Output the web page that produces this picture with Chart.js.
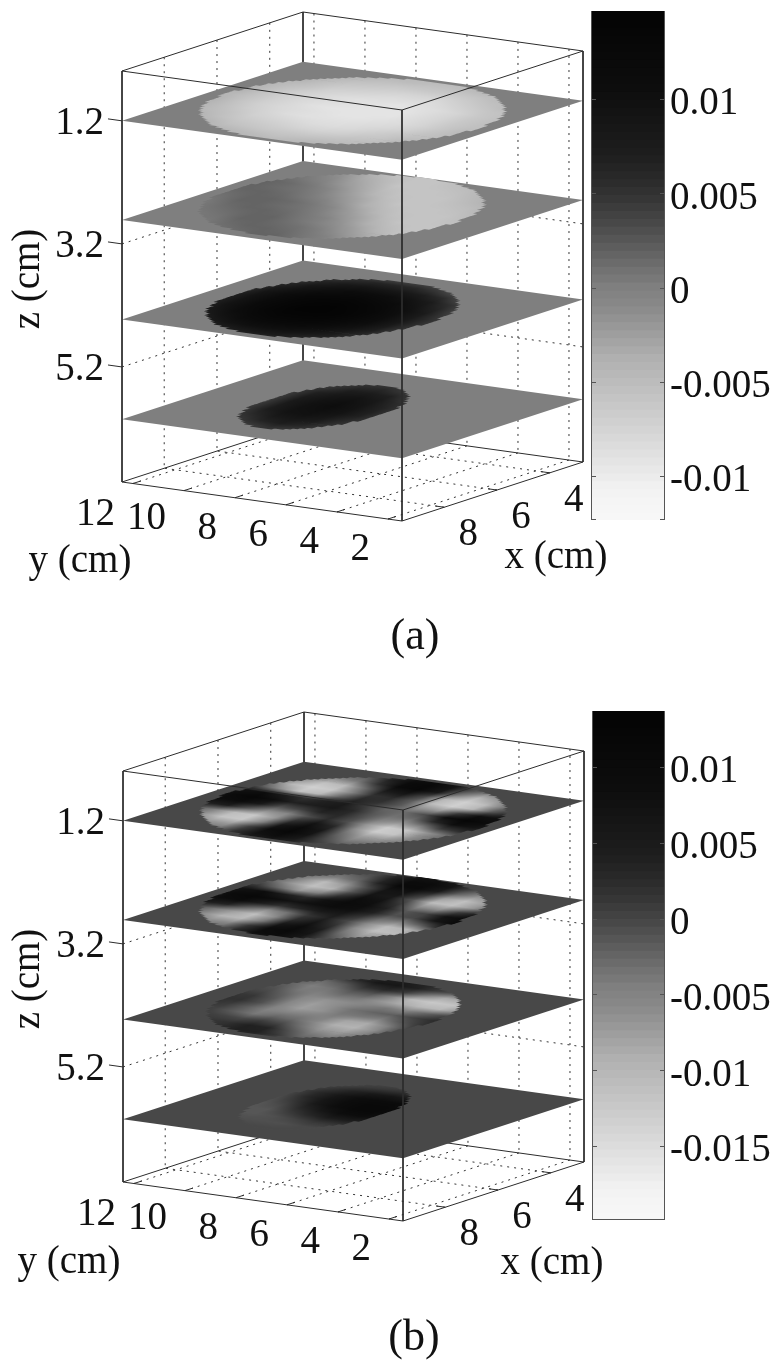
<!DOCTYPE html>
<html>
<head>
<meta charset="utf-8">
<style>
html,body{margin:0;background:#fff}
canvas{position:absolute;display:block;filter:blur(0.45px)}
</style>
<script src="https://cdn.jsdelivr.net/npm/chart.js@4"></script>
</head>
<body>
<canvas id="panelA" width="783" height="700" style="left:0;top:0"></canvas>
<canvas id="barA" width="192" height="531" style="left:591px;top:0"></canvas>
<canvas id="panelB" width="783" height="666" style="left:0;top:700px"></canvas>
<canvas id="barB" width="191" height="531" style="left:592px;top:700px"></canvas>
<script>
const xTicks = [4, 6, 8];
const yTicks = [2, 4, 6, 8, 10, 12];
const zTicks = [1.2, 3.2, 5.2];
const sliceZ = [1.2, 2.81, 4.43, 6.05];
const xRange = [2.74, 9.6];
const yRange = [1.45, 12.43];
const zRange = [0.39, 7.07];

// disc outline on each slice, cm
const discX = [6.17, 6.01, 6.32, 6.33];
const discY = [6.94, 7.52, 7.59, 7.9];
const discRx = [3.26, 3.23, 2.97, 2.40];
const discRy = [4.92, 4.45, 3.86, 2.2];

const barTicksA = [0.01, 0.005, 0, -0.005, -0.01];
const barTicksB = [0.01, 0.005, 0, -0.005, -0.01, -0.015];
const barRangeA = [-0.01234, 0.01468];
const barRangeB = [-0.01987, 0.01368];

// colormap table, top of the bar to the bottom
const grayLevels = [4,5,6,7,8,9,10,11,12,13,15,17,19,21,23,25,27,29,32,36,40,44,49,54,60,66,72,79,86,93,100,107,
  114,120,127,131,135,140,146,152,158,164,170,176,180,184,188,192,196,200,204,208,212,216,220,224,228,232,236,240,243,245,246,247];

// field values in 1e-4, rows go along x (from xmax), columns along y (from ymin)
const fieldA1 = [
[-44,-44,-43,-43,-42,-42,-42,-42,-41,-41,-40,-40,-39,-38,-38],
[-46,-45,-44,-44,-44,-47,-51,-52,-50,-46,-41,-40,-39,-38,-38],
[-47,-46,-46,-48,-54,-60,-63,-64,-62,-58,-52,-43,-40,-38,-38],
[-48,-47,-47,-56,-64,-70,-74,-74,-72,-68,-62,-52,-41,-38,-38],
[-49,-48,-52,-64,-72,-78,-82,-82,-80,-76,-70,-60,-48,-40,-38],
[-49,-49,-58,-70,-78,-84,-88,-88,-86,-82,-75,-66,-54,-41,-38],
[-50,-50,-62,-73,-82,-88,-91,-91,-89,-85,-78,-69,-57,-43,-38],
[-50,-52,-63,-75,-84,-90,-93,-92,-90,-86,-79,-70,-58,-44,-38],
[-52,-53,-64,-75,-84,-90,-93,-91,-89,-85,-78,-69,-57,-43,-38],
[-52,-52,-62,-73,-82,-88,-90,-88,-86,-82,-75,-66,-54,-41,-38],
[-52,-52,-57,-68,-76,-82,-84,-82,-80,-76,-70,-60,-48,-40,-38],
[-52,-50,-50,-60,-68,-73,-75,-74,-72,-68,-62,-52,-42,-40,-38],
[-52,-50,-48,-50,-58,-62,-64,-64,-62,-58,-52,-44,-40,-40,-38],
[-52,-50,-48,-48,-47,-50,-52,-52,-51,-48,-42,-42,-40,-40,-38],
[-52,-50,-48,-48,-47,-46,-45,-45,-44,-44,-42,-42,-40,-40,-38]];
const fieldA2 = [
[-58,-47,-31,-16,-1,7,14,18,16,12,6,5,5,5,5],
[-60,-55,-42,-26,-11,3,10,16,18,15,10,5,5,5,5],
[-60,-59,-50,-35,-20,-5,6,13,18,16,13,7,5,5,5],
[-58,-60,-58,-46,-30,-15,0,8,15,18,16,11,5,5,5],
[-54,-60,-60,-54,-40,-25,-10,3,11,17,18,14,9,5,5],
[-50,-56,-60,-59,-50,-35,-20,-4,6,13,18,16,12,7,5],
[-44,-52,-58,-60,-58,-46,-30,-14,1,9,15,18,16,11,5],
[-38,-47,-54,-60,-60,-54,-40,-24,-9,4,12,17,18,14,9],
[-38,-40,-50,-56,-60,-59,-50,-35,-19,-3,6,13,18,16,12],
[-38,-38,-45,-52,-58,-60,-57,-45,-29,-14,1,9,15,18,16],
[-38,-38,-38,-48,-54,-60,-60,-53,-40,-24,-8,4,12,17,18],
[-38,-38,-38,-40,-50,-56,-60,-59,-49,-33,-18,-2,7,14,18],
[-38,-38,-38,-38,-46,-52,-58,-60,-56,-43,-27,-12,2,10,16],
[-38,-38,-38,-38,-39,-49,-55,-60,-59,-51,-37,-21,-5,5,13],
[-38,-38,-38,-38,-38,-41,-50,-58,-60,-58,-47,-31,-16,-1,7]];
const fieldA3 = [
[30,30,30,30,30,32,37,49,54,52,45,45,45,45,45],
[30,30,30,30,30,46,64,76,81,79,70,54,45,45,45],
[30,30,30,30,43,68,86,98,103,101,92,76,53,45,45],
[30,30,30,30,61,86,104,116,121,119,110,94,71,45,45],
[30,30,30,40,73,98,117,128,133,131,122,106,84,54,45],
[30,30,30,49,82,107,125,137,142,140,131,115,92,63,45],
[30,30,30,52,85,110,128,140,145,143,134,118,95,66,45],
[30,30,30,50,83,108,127,138,143,141,132,116,94,64,45],
[30,30,30,44,77,102,120,132,137,135,126,110,88,58,45],
[30,30,30,33,66,91,110,121,126,124,115,99,77,47,45],
[30,30,30,30,51,76,94,106,111,109,100,84,61,45,45],
[30,30,30,30,31,56,74,86,91,89,80,64,45,45,45],
[30,30,30,30,30,30,48,60,65,63,54,45,45,45,45],
[30,30,30,30,30,30,32,34,36,36,36,36,36,36,36],
[30,30,30,30,30,30,30,30,30,30,30,30,30,30,30]];
const fieldA4 = [
[45,45,45,45,45,45,45,45,45,45,45,45,45,45,45],
[45,45,45,45,45,45,45,45,45,45,45,45,45,45,45],
[45,45,45,45,45,45,45,45,50,45,45,45,45,45,45],
[45,45,45,45,45,45,45,60,71,66,46,45,45,45,45],
[45,45,45,45,45,45,50,76,87,82,62,45,45,45,45],
[45,45,45,45,45,45,61,87,98,93,73,45,45,45,45],
[45,45,45,45,45,45,67,93,104,99,79,45,45,45,45],
[45,45,45,45,45,45,68,94,105,100,80,45,45,45,45],
[45,45,45,45,45,45,64,90,101,96,76,45,45,45,45],
[45,45,45,45,45,45,55,81,92,87,67,45,45,45,45],
[45,45,45,45,45,45,45,67,78,73,53,45,45,45,45],
[45,45,45,45,45,45,45,48,59,54,45,45,45,45,45],
[45,45,45,45,45,45,45,45,45,45,45,45,45,45,45],
[45,45,45,45,45,45,45,45,45,45,45,45,45,45,45],
[45,45,45,45,45,45,45,45,45,45,45,45,45,45,45]];
const fieldB1 = [
[0,-2,-5,-5,-5,5,30,46,38,15,-10,-15,-10,-5,0],
[-4,-6,-12,-16,-15,10,55,85,70,20,-35,-40,-28,-14,-5],
[-8,-14,-28,-40,-42,-5,70,112,85,5,-70,-72,-48,-22,-8],
[-12,-25,-50,-75,-78,-30,60,105,60,-50,-124,-115,-65,-30,-10],
[-15,-30,-62,-118,-128,-60,30,70,20,-70,-124,-105,-50,-10,10],
[-14,-30,-65,-118,-130,-70,-5,25,-5,-55,-62,-15,45,45,30],
[10,25,10,-45,-70,-50,-5,30,35,5,-5,55,100,85,50],
[40,70,85,30,-30,-35,-10,30,60,45,40,85,118,100,60],
[55,95,118,85,0,-30,-25,10,50,40,20,45,85,75,45],
[45,80,80,10,-70,-65,-15,20,30,-25,-100,-118,-60,-5,15],
[25,40,-10,-100,-132,-105,-20,25,20,-50,-124,-135,-100,-35,-5],
[5,5,-35,-105,-132,-100,0,65,50,-30,-100,-112,-70,-30,-8],
[-5,-12,-35,-70,-100,-40,60,115,100,20,-40,-55,-40,-20,-5],
[-5,-10,-22,-40,-45,-5,70,110,95,40,-10,-22,-20,-10,-3],
[-3,-5,-12,-20,-20,5,55,85,70,30,0,-8,-8,-4,0]];
const fieldB2 = [
[0,-2,-4,-5,-5,5,30,45,42,20,-5,-10,-8,-4,0],
[-3,-6,-12,-16,-14,10,60,90,85,30,-25,-32,-20,-10,-4],
[-8,-14,-28,-42,-45,-5,65,105,90,15,-55,-62,-40,-20,-6],
[-10,-22,-48,-72,-78,-35,45,90,60,-40,-100,-98,-52,-22,-5],
[-10,-24,-58,-105,-112,-60,20,65,25,-60,-110,-78,-40,-4,14],
[0,-16,-50,-95,-105,-60,0,40,15,-35,-60,-20,35,50,35],
[20,45,40,-20,-50,-35,15,55,55,35,20,50,95,85,50],
[40,85,105,60,0,-5,40,80,90,80,70,90,112,100,60],
[45,90,108,75,5,-10,40,85,95,75,30,45,85,75,45],
[40,70,65,10,-60,-60,15,75,85,20,-45,-70,-30,10,15],
[25,35,-5,-70,-110,-105,-15,55,65,-10,-95,-112,-70,-25,-4],
[8,5,-30,-75,-110,-75,10,70,65,-5,-70,-105,-60,-25,-6],
[-4,-10,-30,-60,-65,-25,55,105,105,35,-25,-45,-32,-15,-4],
[-4,-8,-18,-30,-32,5,70,100,95,40,-5,-18,-16,-8,-2],
[-2,-4,-10,-15,-14,5,50,75,70,30,0,-6,-6,-3,0]];
const fieldB3 = [
[10,10,10,10,0,-5,-5,0,20,20,10,5,5,5,5],
[10,10,10,10,-10,-25,-20,15,40,40,25,10,5,5,5],
[10,10,10,10,-30,-50,-40,-5,35,40,20,15,10,5,5],
[15,15,15,5,-50,-75,-70,-35,0,10,0,5,10,10,5],
[20,20,20,0,-60,-95,-90,-55,-30,-25,-39,-20,5,10,5],
[25,25,25,5,-45,-85,-80,-50,-45,-50,-50,-20,10,20,10],
[25,25,25,15,-15,-45,-40,-40,-65,-75,-50,-5,20,20,10],
[25,25,25,22,5,-20,-25,-35,-60,-75,-55,-10,15,15,8],
[20,15,10,5,-25,-50,-40,-50,-60,-65,-55,-25,0,5,5],
[10,0,-20,-60,-100,-100,-85,-65,-40,-35,-45,-40,-15,-2,0],
[5,-5,-40,-90,-120,-125,-105,-50,-10,-15,-35,-45,-25,-5,0],
[0,-5,-25,-60,-85,-85,-40,10,30,20,-10,-30,-20,-5,0],
[0,0,-5,-15,-15,-15,10,40,60,60,30,5,0,0,0],
[0,0,0,0,5,10,20,30,45,40,20,5,0,0,0],
[0,0,0,0,0,5,10,15,20,15,10,0,0,0,0]];
const fieldB4 = [
[0,0,0,0,0,0,0,0,0,0,0,0,0,0,0],
[0,0,0,0,0,0,0,0,0,0,0,0,0,0,0],
[0,0,0,0,0,0,0,0,0,0,0,0,0,0,0],
[0,0,0,0,0,0,0,0,-5,-8,-8,-4,0,0,0],
[0,0,0,0,0,10,15,15,5,-5,-12,-10,-2,0,0],
[0,0,0,0,0,35,50,50,30,8,-14,-14,-5,0,0],
[0,0,0,0,5,70,90,85,60,30,0,-14,-8,0,0],
[0,0,0,0,10,85,110,108,85,55,15,-8,-8,0,0],
[0,0,0,0,15,90,110,110,90,65,30,0,-5,0,0],
[0,0,0,0,10,75,95,100,85,60,30,5,0,0,0],
[0,0,0,0,2,30,55,65,55,35,15,0,0,0,0],
[0,0,0,0,0,5,12,20,15,8,0,0,0,0,0],
[0,0,0,0,0,0,0,0,0,0,0,0,0,0,0],
[0,0,0,0,0,0,0,0,0,0,0,0,0,0,0],
[0,0,0,0,0,0,0,0,0,0,0,0,0,0,0]];

const serif = 'Liberation Serif';

function grayOf(v, range) {
  const t = (range[1] - v) / (range[1] - range[0]);
  const k = Math.max(0, Math.min(grayLevels.length - 1, Math.floor(t * grayLevels.length)));
  return grayLevels[k];
}

function makeProjection(fx, fy) {
  const px = 181 / (xRange[1] - xRange[0]);
  const py = 59 / (xRange[1] - xRange[0]);
  const qx = 280 / (yRange[1] - yRange[0]);
  const qy = 39 / (yRange[1] - yRange[0]);
  const pz = 411 / (zRange[1] - zRange[0]);
  return (x, y, z) => ({
    x: fx + (xRange[1] - x) * px - (y - yRange[0]) * qx,
    y: fy - (xRange[1] - x) * py - (y - yRange[0]) * qy + (z - zRange[1]) * pz
  });
}

function lineLayer(segments, project, style) {
  const data = [];
  segments.forEach(s => {
    data.push(project(...s[0]), project(...s[1]), {x: NaN, y: NaN});
  });
  return Object.assign({data, pointRadius: 0, borderWidth: 1, borderColor: '#2c2c2c', fill: false}, style);
}

function fieldImage(field, range) {
  const c = document.createElement('canvas');
  c.width = field.length;
  c.height = field[0].length;
  const g = c.getContext('2d');
  const img = g.createImageData(c.width, c.height);
  field.forEach((row, i) => row.forEach((v, j) => {
    const level = grayOf(v * 1e-4, range);
    const p = (j * c.width + i) * 4;
    img.data[p] = level; img.data[p + 1] = level; img.data[p + 2] = level; img.data[p + 3] = 255;
  }));
  g.putImageData(img, 0, 0);
  return c;
}

// paints the slice field right after its plane, inside the stepped disc outline
function slicePlugin(project, range) {
  return {
    id: 'sliceField',
    afterDatasetDraw(chart, args) {
      const ds = chart.data.datasets[args.index];
      if (!ds.field) return;
      const sx = chart.scales.x, sy = chart.scales.y;
      const pix = p => [sx.getPixelForValue(p.x), sy.getPixelForValue(p.y)];
      const o = pix(project(xRange[1], yRange[0], ds.z));
      const a = pix(project(xRange[0], yRange[0], ds.z));
      const b = pix(project(xRange[1], yRange[1], ds.z));
      const ctx = chart.ctx;
      ctx.save();
      ctx.transform(a[0] - o[0], a[1] - o[1], b[0] - o[0], b[1] - o[1], o[0], o[1]);
      const n = 64;
      ctx.beginPath();
      for (let r = 0; r < n; r++) {
        const x = xRange[1] - (r + 0.5) / n * (xRange[1] - xRange[0]);
        const d = (x - discX[ds.slice]) / discRx[ds.slice];
        if (Math.abs(d) >= 1) continue;
        const half = discRy[ds.slice] * Math.sqrt(1 - d * d);
        const v0 = Math.round((discY[ds.slice] - half - yRange[0]) / (yRange[1] - yRange[0]) * n) / n;
        const v1 = Math.round((discY[ds.slice] + half - yRange[0]) / (yRange[1] - yRange[0]) * n) / n;
        ctx.rect(r / n, v0, 1 / n + 0.002, v1 - v0);
      }
      ctx.clip();
      const img = fieldImage(ds.field, range);
      ctx.imageSmoothingEnabled = true;
      ctx.drawImage(img, 0.5, 0.5, img.width - 1, img.height - 1, 0, 0, 1, 1);
      ctx.restore();
    }
  };
}

function labelPlugin(project, o) {
  return {
    id: 'axisText',
    afterDraw(chart) {
      const ctx = chart.ctx;
      const at = (p, dx, dy) => [chart.scales.x.getPixelForValue(p.x) + dx, chart.scales.y.getPixelForValue(p.y) + dy];
      ctx.save();
      ctx.fillStyle = '#111';
      ctx.textBaseline = 'middle';
      ctx.font = '39px "' + serif + '"';
      ctx.textAlign = 'right';
      zTicks.forEach(t => {
        const [x, y] = at(project(xRange[1], yRange[1], t), -18, 3);
        ctx.fillText(String(t), x, y);
      });
      yTicks.forEach(t => {
        const [x, y] = at(project(xRange[1], t, zRange[1]), -18, t === 10 ? 28 : 31);
        ctx.fillText(String(t), x, y);
      });
      ctx.textAlign = 'center';
      xTicks.forEach(t => {
        const [x, y] = at(project(t, yRange[0], zRange[1]), 24, 28);
        ctx.fillText(String(t), x, y);
      });
      ctx.fillText('y (cm)', o.yTitle[0], o.yTitle[1]);
      ctx.fillText('x (cm)', o.xTitle[0], o.xTitle[1]);
      ctx.save();
      ctx.translate(o.zTitle[0], o.zTitle[1]);
      ctx.rotate(-Math.PI / 2);
      ctx.fillText('z (cm)', 0, 0);
      ctx.restore();
      ctx.font = '44px "' + serif + '"';
      ctx.fillText(o.caption, o.capPos[0], o.capPos[1]);
      ctx.restore();
    }
  };
}

function drawPanel(id, fields, range, fx, fy, text) {
  const project = makeProjection(fx, fy);
  const [x0, x1] = xRange, [y0, y1] = yRange, [z0, z1] = zRange;
  const dotted = {borderDash: [2, 5], borderColor: '#333'};

  const grid = [];
  xTicks.forEach(t => {
    grid.push([[t, y1, z0], [t, y1, z1]]);
    grid.push([[t, y0, z1], [t, y1, z1]]);
  });
  yTicks.forEach(t => {
    grid.push([[x0, t, z0], [x0, t, z1]]);
    grid.push([[x0, t, z1], [x1, t, z1]]);
  });
  // the 1.2 grid line runs along the top slice edge, leave it out
  zTicks.slice(1).forEach(t => {
    grid.push([[x1, y1, t], [x0, y1, t]]);
    grid.push([[x0, y1, t], [x0, y0, t]]);
  });

  const backEdges = [
    [[x0, y1, z0], [x0, y1, z1]],
    [[x0, y1, z1], [x1, y1, z1]],
    [[x0, y1, z1], [x0, y0, z1]],
    [[x1, y1, z0], [x0, y1, z0]],
    [[x0, y1, z0], [x0, y0, z0]]
  ];
  const frontEdges = [
    [[x1, y1, z0], [x1, y0, z0]],
    [[x1, y0, z0], [x0, y0, z0]],
    [[x1, y1, z0], [x1, y1, z1]],
    [[x1, y0, z0], [x1, y0, z1]],
    [[x0, y0, z0], [x0, y0, z1]],
    [[x1, y1, z1], [x1, y0, z1]],
    [[x1, y0, z1], [x0, y0, z1]]
  ];
  yTicks.forEach(t => frontEdges.push([[x1, t, z1], [x1 - 0.3, t, z1]]));
  xTicks.forEach(t => frontEdges.push([[t, y0, z1], [t, y0 + 0.35, z1]]));
  zTicks.forEach(t => frontEdges.push([[x1, y1, t], [x1, y1 + 0.55, t]]));

  const zero = grayOf(0, range);
  const layers = [lineLayer(grid, project, dotted), lineLayer(backEdges, project, {})];
  for (let s = sliceZ.length - 1; s >= 0; s--) {
    const z = sliceZ[s];
    layers.push({
      data: [project(x1, y0, z), project(x0, y0, z), project(x0, y1, z), project(x1, y1, z), project(x1, y0, z)],
      pointRadius: 0, borderWidth: 0, fill: 'shape',
      backgroundColor: 'rgb(' + zero + ',' + zero + ',' + zero + ')',
      field: fields[s], slice: s, z
    });
  }
  layers.push(lineLayer(frontEdges, project, {}));
  layers.forEach((l, k) => { l.order = layers.length - k; });

  const cv = document.getElementById(id);
  return new Chart(cv, {
    type: 'line',
    data: {datasets: layers},
    options: {
      responsive: false, animation: false, events: [],
      layout: {padding: 0},
      scales: {
        x: {type: 'linear', display: false, min: 0, max: cv.width},
        y: {type: 'linear', display: false, min: 0, max: cv.height, reverse: true}
      },
      plugins: {legend: {display: false}, tooltip: {enabled: false}}
    },
    plugins: [slicePlugin(project, range), labelPlugin(project, text)]
  });
}

const barFrame = {
  id: 'barFrame',
  afterDraw(chart) {
    const {left, right, top, bottom} = chart.chartArea;
    const ctx = chart.ctx;
    const open = chart.options.plugins.barFrame.openBottom;
    ctx.save();
    ctx.strokeStyle = '#555';
    ctx.lineWidth = 1;
    ctx.beginPath();
    ctx.moveTo(left + 0.5, bottom); ctx.lineTo(left + 0.5, top);
    ctx.moveTo(right - 0.5, bottom); ctx.lineTo(right - 0.5, top);
    if (open) {
      ctx.moveTo(left, bottom - 0.5); ctx.lineTo(left + 5, bottom - 0.5);
      ctx.moveTo(right - 5, bottom - 0.5); ctx.lineTo(right, bottom - 0.5);
    } else {
      ctx.moveTo(left, bottom - 0.5); ctx.lineTo(right, bottom - 0.5);
    }
    chart.scales.y.ticks.forEach(t => {
      const y = Math.round(chart.scales.y.getPixelForValue(t.value)) + 0.5;
      ctx.moveTo(left, y); ctx.lineTo(left + 5, y);
      ctx.moveTo(right - 5, y); ctx.lineTo(right, y);
    });
    ctx.stroke();
    ctx.restore();
  }
};

function drawBar(id, range, ticks, openBottom) {
  const n = grayLevels.length;
  const step = (range[1] - range[0]) / n;
  const datasets = grayLevels.map((g, k) => ({
    data: [[range[1] - (k + 1.1) * step, range[1] - k * step]],
    backgroundColor: 'rgb(' + g + ',' + g + ',' + g + ')',
    borderWidth: 0, barPercentage: 1, categoryPercentage: 1, grouped: false
  }));
  return new Chart(document.getElementById(id), {
    type: 'bar',
    data: {labels: [''], datasets},
    options: {
      responsive: false, animation: false, events: [],
      layout: {padding: {top: 11, bottom: 11}},
      scales: {
        x: {display: false},
        y: {
          position: 'right', min: range[0], max: range[1],
          grid: {display: false, drawTicks: false}, border: {display: false},
          afterBuildTicks: s => { s.ticks = ticks.map(value => ({value})); },
          afterFit: s => { s.width = 118; s.paddingTop = 0; s.paddingBottom = 0; },
          ticks: {
            autoSkip: false, padding: 5, labelOffset: 5, color: '#111',
            font: {family: serif, size: 39},
            callback: v => String(v)
          }
        }
      },
      plugins: {legend: {display: false}, tooltip: {enabled: false}, barFrame: {openBottom}}
    },
    plugins: [barFrame]
  });
}

drawPanel('panelA', [fieldA1, fieldA2, fieldA3, fieldA4], barRangeA, 402, 521, {
  yTitle: [80, 562], xTitle: [556, 558], zTitle: [29, 279], caption: '(a)', capPos: [415, 637]
});
drawPanel('panelB', [fieldB1, fieldB2, fieldB3, fieldB4], barRangeB, 403, 521, {
  yTitle: [69, 563], xTitle: [552, 564], zTitle: [29, 279], caption: '(b)', capPos: [414, 638]
});
drawBar('barA', barRangeA, barTicksA, true);
drawBar('barB', barRangeB, barTicksB, false);
</script>
</body>
</html>
